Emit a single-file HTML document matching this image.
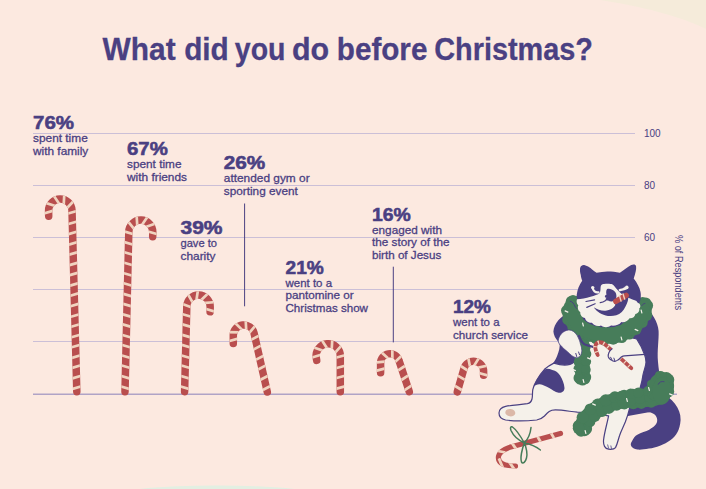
<!DOCTYPE html>
<html><head><meta charset="utf-8"><title>What did you do before Christmas?</title>
<style>html,body{margin:0;padding:0;background:#fce9e0;width:706px;height:489px;overflow:hidden;font-family:"Liberation Sans",sans-serif}</style>
</head><body>
<svg width="706" height="489" viewBox="0 0 706 489" style="display:block;position:absolute;left:0;top:0" font-family="Liberation Sans, sans-serif" fill="#4a4082">
<rect width="706" height="489" fill="#fce9e0"/>
<path d="M600,0 C640,6 680,16 706,29 L706,0 Z" fill="#f5ebda"/>
<ellipse cx="217" cy="496" rx="104" ry="10.5" fill="#e3efe2"/>
<line x1="33" y1="133.5" x2="635" y2="133.5" stroke="#cbbfd7" stroke-width="1"/>
<line x1="33" y1="185.5" x2="635" y2="185.5" stroke="#cbbfd7" stroke-width="1"/>
<line x1="33" y1="237.5" x2="635" y2="237.5" stroke="#cbbfd7" stroke-width="1"/>
<line x1="33" y1="289.5" x2="635" y2="289.5" stroke="#cbbfd7" stroke-width="1"/>
<line x1="33" y1="341.5" x2="635" y2="341.5" stroke="#cbbfd7" stroke-width="1"/>
<line x1="33" y1="394.3" x2="677" y2="394.3" stroke="#b0a3c6" stroke-width="1.5"/>
<text x="644" y="136.9" font-size="10" font-weight="normal" text-anchor="start">100</text>
<text x="644" y="188.9" font-size="10" font-weight="normal" text-anchor="start">80</text>
<text x="644" y="240.9" font-size="10" font-weight="normal" text-anchor="start">60</text>
<text transform="translate(675.3,235) rotate(90)" font-size="10" textLength="75" lengthAdjust="spacingAndGlyphs">% of Respondents</text>
<line x1="244.6" y1="203.5" x2="244.6" y2="306.3" stroke="#4a4082" stroke-width="1"/>
<line x1="393.3" y1="266.7" x2="393.3" y2="342.4" stroke="#4a4082" stroke-width="1"/>
<text x="102.6" y="59.6" font-size="32" font-weight="bold" text-anchor="start" textLength="73" lengthAdjust="spacingAndGlyphs" stroke="#4a4082" stroke-width="0.3">What</text>
<text x="184.2" y="59.6" font-size="32" font-weight="bold" text-anchor="start" textLength="44.6" lengthAdjust="spacingAndGlyphs" stroke="#4a4082" stroke-width="0.3">did</text>
<text x="234.8" y="59.6" font-size="32" font-weight="bold" text-anchor="start" textLength="50.6" lengthAdjust="spacingAndGlyphs" stroke="#4a4082" stroke-width="0.3">you</text>
<text x="292" y="59.6" font-size="32" font-weight="bold" text-anchor="start" textLength="37.2" lengthAdjust="spacingAndGlyphs" stroke="#4a4082" stroke-width="0.3">do</text>
<text x="336.8" y="59.6" font-size="32" font-weight="bold" text-anchor="start" textLength="90.6" lengthAdjust="spacingAndGlyphs" stroke="#4a4082" stroke-width="0.3">before</text>
<text x="434.3" y="59.6" font-size="32" font-weight="bold" text-anchor="start" textLength="158.6" lengthAdjust="spacingAndGlyphs" stroke="#4a4082" stroke-width="0.3">Christmas?</text>
<text x="33" y="129.25" font-size="18.6" font-weight="bold" text-anchor="start" textLength="41" lengthAdjust="spacingAndGlyphs" stroke="#4a4082" stroke-width="0.55">76%</text>
<text x="33" y="142.35" font-size="11.8" font-weight="normal" text-anchor="start" textLength="54.75" lengthAdjust="spacingAndGlyphs" stroke="#4a4082" stroke-width="0.3">spent time</text>
<text x="33" y="155.15" font-size="11.8" font-weight="normal" text-anchor="start" textLength="55.25" lengthAdjust="spacingAndGlyphs" stroke="#4a4082" stroke-width="0.3">with family</text>
<text x="127" y="155.25" font-size="18.6" font-weight="bold" text-anchor="start" textLength="40.75" lengthAdjust="spacingAndGlyphs" stroke="#4a4082" stroke-width="0.55">67%</text>
<text x="127" y="168.35" font-size="11.8" font-weight="normal" text-anchor="start" textLength="54.5" lengthAdjust="spacingAndGlyphs" stroke="#4a4082" stroke-width="0.3">spent time</text>
<text x="127" y="181.15" font-size="11.8" font-weight="normal" text-anchor="start" textLength="60" lengthAdjust="spacingAndGlyphs" stroke="#4a4082" stroke-width="0.3">with friends</text>
<text x="180.5" y="233.7" font-size="18.6" font-weight="bold" text-anchor="start" textLength="42" lengthAdjust="spacingAndGlyphs" stroke="#4a4082" stroke-width="0.55">39%</text>
<text x="180.5" y="246.8" font-size="11.8" font-weight="normal" text-anchor="start" textLength="36.5" lengthAdjust="spacingAndGlyphs" stroke="#4a4082" stroke-width="0.3">gave to</text>
<text x="180.5" y="259.6" font-size="11.8" font-weight="normal" text-anchor="start" textLength="35" lengthAdjust="spacingAndGlyphs" stroke="#4a4082" stroke-width="0.3">charity</text>
<text x="223.8" y="168.6" font-size="18.6" font-weight="bold" text-anchor="start" textLength="41.5" lengthAdjust="spacingAndGlyphs" stroke="#4a4082" stroke-width="0.55">26%</text>
<text x="223.8" y="181.7" font-size="11.8" font-weight="normal" text-anchor="start" textLength="85.8" lengthAdjust="spacingAndGlyphs" stroke="#4a4082" stroke-width="0.3">attended gym or</text>
<text x="223.8" y="194.5" font-size="11.8" font-weight="normal" text-anchor="start" textLength="74" lengthAdjust="spacingAndGlyphs" stroke="#4a4082" stroke-width="0.3">sporting event</text>
<text x="285.5" y="273.5" font-size="18.6" font-weight="bold" text-anchor="start" textLength="38.25" lengthAdjust="spacingAndGlyphs" stroke="#4a4082" stroke-width="0.55">21%</text>
<text x="285.5" y="286.6" font-size="11.8" font-weight="normal" text-anchor="start" textLength="46.5" lengthAdjust="spacingAndGlyphs" stroke="#4a4082" stroke-width="0.3">went to a</text>
<text x="285.5" y="299.4" font-size="11.8" font-weight="normal" text-anchor="start" textLength="68.25" lengthAdjust="spacingAndGlyphs" stroke="#4a4082" stroke-width="0.3">pantomine or</text>
<text x="285.5" y="312.2" font-size="11.8" font-weight="normal" text-anchor="start" textLength="82.5" lengthAdjust="spacingAndGlyphs" stroke="#4a4082" stroke-width="0.3">Christmas show</text>
<text x="372" y="220.5" font-size="18.6" font-weight="bold" text-anchor="start" textLength="38.75" lengthAdjust="spacingAndGlyphs" stroke="#4a4082" stroke-width="0.55">16%</text>
<text x="372" y="233.6" font-size="11.8" font-weight="normal" text-anchor="start" textLength="70" lengthAdjust="spacingAndGlyphs" stroke="#4a4082" stroke-width="0.3">engaged with</text>
<text x="372" y="246.4" font-size="11.8" font-weight="normal" text-anchor="start" textLength="77.5" lengthAdjust="spacingAndGlyphs" stroke="#4a4082" stroke-width="0.3">the story of the</text>
<text x="372" y="259.2" font-size="11.8" font-weight="normal" text-anchor="start" textLength="69.25" lengthAdjust="spacingAndGlyphs" stroke="#4a4082" stroke-width="0.3">birth of Jesus</text>
<text x="453" y="312.6" font-size="18.6" font-weight="bold" text-anchor="start" textLength="38" lengthAdjust="spacingAndGlyphs" stroke="#4a4082" stroke-width="0.55">12%</text>
<text x="453" y="325.7" font-size="11.8" font-weight="normal" text-anchor="start" textLength="46.5" lengthAdjust="spacingAndGlyphs" stroke="#4a4082" stroke-width="0.3">went to a</text>
<text x="453" y="338.5" font-size="11.8" font-weight="normal" text-anchor="start" textLength="75" lengthAdjust="spacingAndGlyphs" stroke="#4a4082" stroke-width="0.3">church service</text>
<mask id="m1" maskUnits="userSpaceOnUse" x="0" y="0" width="706" height="489"><path d="M76.8,391.7 L72.0,210.4 A11.7,11.7 0 0 0 48.6,211.0 L48.7,216.2" fill="none" stroke="#fff" stroke-width="7.5" stroke-linecap="round"/></mask>
<path d="M76.8,391.7 L72.0,210.4 A11.7,11.7 0 0 0 48.6,211.0 L48.7,216.2" fill="none" stroke="#b94e4e" stroke-width="7.5" stroke-linecap="round"/>
<path d="M70.2,389.6L83.2,385.8 M69.9,379.1L82.9,375.3 M69.7,368.6L82.6,364.7 M69.4,358.6L82.3,354.7 M69.1,348.0L82.1,344.2 M68.9,338.0L81.8,334.2 M68.6,327.5L81.5,323.7 M68.3,317.5L81.3,313.7 M68.0,307.0L81.0,303.1 M67.8,296.5L80.7,292.6 M67.5,286.4L80.4,282.6 M67.2,275.9L80.2,272.1 M66.9,265.9L79.9,262.1 M66.7,255.4L79.6,251.6 M66.4,245.4L79.3,241.5 M66.1,234.9L79.1,231.0 M65.9,224.8L78.8,221.0 M65.6,214.3L78.5,210.5 M65.6,209.5L74.9,199.7 M63.6,206.4L64.4,192.9 M60.2,205.2L52.6,194.1 M56.9,206.5L44.0,202.4 M55.1,210.1L42.2,214.0" stroke="#f0d4c0" stroke-width="2.7" fill="none" mask="url(#m1)"/>
<mask id="m2" maskUnits="userSpaceOnUse" x="0" y="0" width="706" height="489"><path d="M125.0,391.7 L128.8,231.8 A12.0,12.0 0 0 1 152.8,232.4 L152.7,236.7" fill="none" stroke="#fff" stroke-width="7.5" stroke-linecap="round"/></mask>
<path d="M125.0,391.7 L128.8,231.8 A12.0,12.0 0 0 1 152.8,232.4 L152.7,236.7" fill="none" stroke="#b94e4e" stroke-width="7.5" stroke-linecap="round"/>
<path d="M131.6,389.6L118.6,385.8 M131.8,379.1L118.9,375.3 M132.1,368.5L119.1,364.7 M132.3,358.5L119.4,354.7 M132.6,348.0L119.6,344.2 M132.8,338.0L119.8,334.2 M133.0,327.4L120.1,323.6 M133.3,317.4L120.3,313.6 M133.5,306.9L120.6,303.1 M133.8,296.9L120.8,293.1 M134.0,286.3L121.1,282.5 M134.3,276.3L121.3,272.5 M134.5,265.8L121.6,262.0 M134.8,255.3L121.8,251.5 M135.0,245.2L122.0,241.4 M135.3,234.7L122.3,230.9 M135.3,230.3L126.7,219.9 M137.4,227.5L136.5,214.0 M141.0,226.3L148.6,215.2 M144.3,227.5L157.0,223.0 M146.3,231.0L159.3,234.8" stroke="#f0d4c0" stroke-width="2.7" fill="none" mask="url(#m2)"/>
<mask id="m3" maskUnits="userSpaceOnUse" x="0" y="0" width="706" height="489"><path d="M184.6,391.7 L186.8,306.4 A11.7,11.7 0 0 1 210.2,307.0 L210.1,311.8" fill="none" stroke="#fff" stroke-width="7.5" stroke-linecap="round"/></mask>
<path d="M184.6,391.7 L186.8,306.4 A11.7,11.7 0 0 1 210.2,307.0 L210.1,311.8" fill="none" stroke="#b94e4e" stroke-width="7.5" stroke-linecap="round"/>
<path d="M191.2,389.6L178.2,385.8 M191.4,379.1L178.5,375.2 M191.7,368.5L178.8,364.7 M192.0,358.5L179.0,354.7 M192.3,348.0L179.3,344.1 M192.5,337.9L179.6,334.1 M192.8,327.4L179.8,323.6 M193.0,317.3L180.1,313.5 M193.2,307.9L180.5,303.2 M193.6,304.2L187.0,292.5 M196.2,301.8L198.2,288.4 M199.7,301.4L209.5,292.1 M202.7,303.2L216.2,302.0 M203.6,308.3L216.6,312.1" stroke="#f0d4c0" stroke-width="2.7" fill="none" mask="url(#m3)"/>
<mask id="m4" maskUnits="userSpaceOnUse" x="0" y="0" width="706" height="489"><path d="M267.3,392.0 L254.0,332.9 A10.5,10.5 0 0 0 233.3,335.3 L233.3,343.6" fill="none" stroke="#fff" stroke-width="7.5" stroke-linecap="round"/></mask>
<path d="M267.3,392.0 L254.0,332.9 A10.5,10.5 0 0 0 233.3,335.3 L233.3,343.6" fill="none" stroke="#b94e4e" stroke-width="7.5" stroke-linecap="round"/>
<path d="M260.4,391.2L272.4,385.0 M258.1,381.0L270.1,374.7 M255.8,370.7L267.8,364.4 M253.6,360.9L265.6,354.7 M251.3,350.7L263.3,344.4 M249.1,340.9L261.1,334.6 M248.0,334.4L256.7,324.0 M246.3,331.7L245.6,318.2 M243.2,330.9L233.6,321.5 M240.4,332.4L226.9,332.1 M239.8,338.1L226.8,341.7" stroke="#f0d4c0" stroke-width="2.7" fill="none" mask="url(#m4)"/>
<mask id="m5" maskUnits="userSpaceOnUse" x="0" y="0" width="706" height="489"><path d="M340.3,391.7 L340.3,355.9 A12.1,12.1 0 1 0 316.3,358.0 L316.7,360.4" fill="none" stroke="#fff" stroke-width="7.5" stroke-linecap="round"/></mask>
<path d="M340.3,391.7 L340.3,355.9 A12.1,12.1 0 1 0 316.3,358.0 L316.7,360.4" fill="none" stroke="#b94e4e" stroke-width="7.5" stroke-linecap="round"/>
<path d="M333.8,389.4L346.8,385.9 M333.8,378.8L346.8,375.3 M333.8,368.7L346.8,365.2 M333.8,358.2L346.8,354.7 M333.8,354.2L342.7,344.1 M331.6,351.1L332.4,337.7 M328.2,350.1L320.9,338.7 M324.6,351.3L311.8,346.8 M322.6,354.3L309.6,358.2" stroke="#f0d4c0" stroke-width="2.7" fill="none" mask="url(#m5)"/>
<mask id="m6" maskUnits="userSpaceOnUse" x="0" y="0" width="706" height="489"><path d="M409.3,391.7 L399.0,360.5 A9.4,9.4 0 0 0 380.6,363.5 L380.6,372.8" fill="none" stroke="#fff" stroke-width="7.5" stroke-linecap="round"/></mask>
<path d="M409.3,391.7 L399.0,360.5 A9.4,9.4 0 0 0 380.6,363.5 L380.6,372.8" fill="none" stroke="#b94e4e" stroke-width="7.5" stroke-linecap="round"/>
<path d="M402.4,391.6L413.7,384.2 M399.1,381.5L410.3,374.1 M395.9,371.9L407.2,364.5 M393.4,363.6L403.1,354.2 M392.4,361.1L392.3,347.6 M389.9,360.1L380.0,350.9 M387.4,361.3L374.0,362.7 M387.1,367.9L374.1,371.4" stroke="#f0d4c0" stroke-width="2.7" fill="none" mask="url(#m6)"/>
<mask id="m7" maskUnits="userSpaceOnUse" x="0" y="0" width="706" height="489"><path d="M457.3,391.9 L464.0,368.5 A10.0,10.0 0 0 1 483.6,371.3 L483.6,375.3" fill="none" stroke="#fff" stroke-width="7.5" stroke-linecap="round"/></mask>
<path d="M457.3,391.9 L464.0,368.5 A10.0,10.0 0 0 1 483.6,371.3 L483.6,375.3" fill="none" stroke="#b94e4e" stroke-width="7.5" stroke-linecap="round"/>
<path d="M464.2,391.5L452.6,384.5 M467.1,381.2L455.6,374.3 M469.8,371.9L458.4,364.5 M470.5,368.9L467.8,355.7 M473.0,367.4L480.2,356.0 M475.9,368.1L489.1,365.3 M477.1,372.5L490.1,376.1" stroke="#f0d4c0" stroke-width="2.7" fill="none" mask="url(#m7)"/>
<path fill="#4a4082" d="M660,392 C672,398 681,408 680.6,420 C680,430 676,436 671,439.7 C664,445 656,447.5 649,448.6 C644,449.5 640,450 637.3,449.6 C631,448.5 629.5,444.5 631.8,441.5 C633.5,438 635,436 637.3,434.7 C641,432.5 646,431.5 649.2,429.7 C654,427 657.5,424 657.2,419.8 C657,414.5 652,412 647.2,411.9 C641,412 635,413.5 629.4,414.9 L626,410 L645,392 Z"/>
<path fill="#4a4082" d="M570,312 C561,316 554,323 553.4,331.5 C553.6,335 555.5,338.5 557.9,341.2 C559,343 559.6,344.5 559.7,345.8 C559.5,350.5 557.5,355 556,358.6 C554.8,361 553.2,363.2 551.4,365 L575,370 L600,400 L628,416 L650,412 L668,400 C662,388 659,375 658,362 C657,350 659,340 658.6,331 C658,322 652,312 644,306 L600,300 Z"/>
<path fill="#f5f1ea" stroke="#4a4082" stroke-width="1.2" stroke-linejoin="round" d="M553.9,363.1 C550,365 547,367 544.5,369.3 C541,373 538.5,377 536.7,380.3 C534.5,384 533.3,387 532.8,389.6 C532.2,393 532.8,396 532,399 C531.3,402 529.5,403.2 527.4,403.6 C520,404.8 513,405 505.6,406.4 C501,407.5 499,410 499,413 C499,416.5 501.5,419.2 505.6,420 C515,421.3 527,421 536.7,420 C540,419.5 542.5,418 544.5,416 C546,414.3 547.5,412.5 549.2,411.4 C551,410.2 553,409.9 555.4,409.9 C563,410 570,411.5 577.3,412.2 L590,413 L608.6,415.9 C607,424 604.5,432 603.6,439.7 C603,445 605,449 608.6,449.2 C612,449.5 614.5,449 615.5,447.6 C617.5,444 618,440 619.5,435.7 C621,431 623.5,426.5 625.4,421.8 C627,417.5 628.5,413 629.4,408.9 L636,398 C640,390 642,382 643,374.8 C644,370 646,366 646,362.3 C646,359 645.5,357 644.5,354.5 C642.5,349 640,344 636.7,339 L620,335 L590,335 L578,345 L574,362 C570,365.5 563,366 553.9,363.1 Z"/>
<path fill="#4a4082" d="M533.6,387 C535.5,380.5 540,374 544.8,369.5 C547,368.3 549.5,369 552.3,370.1 C556,371 558.5,373 560.1,375.6 C562.5,379.5 564.2,384 564.5,388 C564.5,391.5 561.5,393.2 558.6,392.7 C555,392 552,389.5 549.2,388 C546,386.3 543,384.8 539.9,384.2 C537.5,384 535,385 533.6,387 Z"/>
<ellipse cx="510.3" cy="412.7" rx="5" ry="3.7" fill="#dbb8a8" transform="rotate(8 510.3 412.7)"/>
<path fill="none" stroke="#4a4082" stroke-width="0.8" d="M607.6,444.5 L608.6,448.5 M610.8,445.5 L611.5,448.8"/>
<path d="M582.5,427.0 L583.4,424.8 L584.5,422.6 L585.7,420.4 L587.2,418.3 L588.9,416.3 L590.8,414.3 L592.9,412.4 L595.3,410.6 L597.9,408.8 L600.7,407.2 L603.8,405.6 L607.1,404.1 L610.7,402.7 L614.4,401.6 L618.0,400.8 L621.7,400.1 L625.3,399.6 L628.9,399.3 L632.4,399.1 L635.9,398.9 L639.3,398.8 L642.5,398.6 L645.7,398.5 L648.7,398.2 L651.6,397.9 L654.3,397.4 L656.6,396.7 L658.3,395.9 L659.8,395.0 L661.1,394.0 L662.3,393.0 L663.3,391.9 L664.1,390.8 L664.8,389.6 L665.2,388.3 L665.5,387.1 L665.6,385.7 L665.4,384.4 L665.1,382.9 L664.5,381.5 L664.5,381.5" fill="none" stroke="#477d5a" stroke-width="17.0" stroke-linecap="round" stroke-linejoin="round"/>
<g fill="#477d5a"><circle cx="586.2" cy="428.8" r="5.9"/><circle cx="578.6" cy="425.8" r="5.9"/><circle cx="589.9" cy="421.5" r="5.5"/><circle cx="582.7" cy="417.5" r="6.1"/><circle cx="594.7" cy="416.3" r="5.7"/><circle cx="590.3" cy="409.2" r="5.8"/><circle cx="602.0" cy="411.2" r="5.8"/><circle cx="597.6" cy="404.2" r="5.6"/><circle cx="608.9" cy="407.8" r="6.1"/><circle cx="605.8" cy="400.2" r="6.0"/><circle cx="616.7" cy="405.2" r="5.5"/><circle cx="614.9" cy="397.2" r="5.9"/><circle cx="624.3" cy="403.9" r="5.5"/><circle cx="624.1" cy="395.6" r="5.8"/><circle cx="633.3" cy="403.1" r="6.1"/><circle cx="632.9" cy="394.9" r="6.1"/><circle cx="641.4" cy="402.8" r="6.1"/><circle cx="641.2" cy="394.6" r="6.2"/><circle cx="651.2" cy="402.1" r="5.6"/><circle cx="649.0" cy="394.1" r="5.7"/><circle cx="661.1" cy="399.0" r="5.8"/><circle cx="656.5" cy="392.2" r="5.7"/><circle cx="668.4" cy="391.6" r="5.8"/><circle cx="660.8" cy="388.4" r="5.9"/><circle cx="668.2" cy="379.7" r="6.1"/><circle cx="660.6" cy="382.9" r="6.2"/><circle cx="584.6" cy="430.5" r="5.8"/><circle cx="581.1" cy="430.9" r="5.8"/><circle cx="578.6" cy="428.3" r="5.8"/><circle cx="660.5" cy="380.5" r="5.8"/><circle cx="662.9" cy="377.7" r="5.8"/><circle cx="666.4" cy="377.9" r="5.8"/></g>
<path d="M622.0,399.0 L624.7,398.3 L627.4,397.7 L630.1,397.1 L632.8,396.7 L635.4,396.3 L638.1,395.9 L640.8,395.6 L643.4,395.2 L646.0,394.8 L648.6,394.3 L651.1,393.7 L653.7,393.1 L656.2,392.3 L657.0,392.0" fill="none" stroke="#477d5a" stroke-width="13.0" stroke-linecap="round" stroke-linejoin="round"/>
<g fill="#477d5a"><circle cx="622.4" cy="402.2" r="5.4"/><circle cx="621.3" cy="395.9" r="5.2"/><circle cx="630.8" cy="400.3" r="5.5"/><circle cx="630.7" cy="393.8" r="5.3"/><circle cx="640.0" cy="398.9" r="5.1"/><circle cx="638.3" cy="392.7" r="5.2"/><circle cx="649.1" cy="397.4" r="4.9"/><circle cx="648.2" cy="391.1" r="5.1"/><circle cx="657.7" cy="395.2" r="4.9"/><circle cx="656.7" cy="388.7" r="5.4"/></g>
<path d="M655.0,393.0 L654.4,391.8 L654.0,390.6 L653.8,389.4 L653.8,388.1 L653.9,386.9 L654.2,385.6 L654.7,384.4 L655.2,383.2 L655.9,382.1 L656.7,381.1 L657.6,380.2 L658.6,379.4 L659.6,378.7 L660.0,378.5" fill="none" stroke="#477d5a" stroke-width="12" stroke-linecap="round" stroke-linejoin="round"/>
<g fill="#477d5a"><circle cx="658.0" cy="391.1" r="4.2"/><circle cx="651.7" cy="394.3" r="4.4"/><circle cx="657.9" cy="385.8" r="4.3"/><circle cx="651.0" cy="384.1" r="4.0"/><circle cx="662.3" cy="381.3" r="4.2"/><circle cx="658.9" cy="375.1" r="3.8"/><circle cx="658.5" cy="393.5" r="4.0"/><circle cx="656.7" cy="396.0" r="4.0"/><circle cx="653.7" cy="396.2" r="4.0"/><circle cx="660.6" cy="375.1" r="4.0"/><circle cx="663.1" cy="376.9" r="4.0"/><circle cx="663.2" cy="379.9" r="4.0"/></g>
<ellipse cx="661.8" cy="391" rx="9.5" ry="13.5" fill="#477d5a"/>
<path fill="none" stroke="#4a4082" stroke-width="0.9" stroke-linecap="round" d="M658.3,384.2 C659,382.2 661.5,381 664,381.6"/>
<path d="M573.5,304.0 L572.4,305.3 L571.5,306.7 L570.8,308.1 L570.3,309.6 L570.0,311.2 L569.9,312.8 L570.1,314.5 L570.4,316.2 L570.9,317.9 L571.7,319.5 L572.6,321.2 L573.7,322.9 L575.0,324.5 L576.9,326.2 L579.1,327.9 L581.4,329.4 L583.7,330.8 L586.0,332.0 L588.4,333.0 L590.8,333.8 L593.3,334.6 L595.8,335.1 L598.3,335.6 L600.9,335.9 L603.5,336.2 L606.2,336.3 L608.9,336.3 L611.7,336.1 L614.4,335.8 L617.0,335.3 L619.5,334.6 L622.0,333.7 L624.3,332.7 L626.6,331.5 L628.8,330.2 L630.9,328.8 L632.9,327.2 L634.7,325.5 L636.5,323.7 L638.2,321.8 L639.3,320.4 L640.3,319.0 L641.2,317.7 L642.0,316.4 L642.6,315.1 L643.2,313.9 L643.7,312.8 L644.0,311.6 L644.2,310.5 L644.3,309.5 L644.3,308.4 L644.2,307.4 L643.9,306.3 L643.8,306.0" fill="none" stroke="#477d5a" stroke-width="15.0" stroke-linecap="round" stroke-linejoin="round"/>
<g fill="#477d5a"><circle cx="571.0" cy="301.2" r="5.2"/><circle cx="576.0" cy="306.7" r="5.2"/><circle cx="566.4" cy="310.6" r="5.4"/><circle cx="573.8" cy="310.7" r="5.5"/><circle cx="567.6" cy="319.5" r="5.4"/><circle cx="574.4" cy="316.5" r="5.2"/><circle cx="573.2" cy="327.9" r="5.7"/><circle cx="577.7" cy="322.0" r="5.3"/><circle cx="580.4" cy="333.1" r="5.8"/><circle cx="584.1" cy="326.8" r="5.4"/><circle cx="588.7" cy="337.0" r="5.1"/><circle cx="591.0" cy="330.0" r="5.3"/><circle cx="595.7" cy="338.9" r="5.2"/><circle cx="597.2" cy="331.7" r="5.7"/><circle cx="604.1" cy="339.9" r="5.5"/><circle cx="605.1" cy="332.5" r="5.4"/><circle cx="613.2" cy="339.7" r="5.1"/><circle cx="611.4" cy="332.5" r="5.2"/><circle cx="621.8" cy="337.7" r="5.4"/><circle cx="618.9" cy="330.9" r="5.5"/><circle cx="629.4" cy="334.2" r="5.3"/><circle cx="626.0" cy="327.6" r="5.6"/><circle cx="636.1" cy="329.3" r="5.5"/><circle cx="631.4" cy="323.5" r="5.7"/><circle cx="642.4" cy="322.4" r="5.3"/><circle cx="636.7" cy="317.7" r="5.2"/><circle cx="646.7" cy="315.2" r="5.6"/><circle cx="639.6" cy="312.8" r="5.4"/><circle cx="647.5" cy="305.5" r="5.6"/><circle cx="640.2" cy="306.8" r="5.5"/><circle cx="573.0" cy="300.3" r="5.4"/><circle cx="576.1" cy="301.3" r="5.4"/><circle cx="577.2" cy="304.3" r="5.4"/><circle cx="640.3" cy="304.7" r="5.4"/><circle cx="642.6" cy="302.5" r="5.4"/><circle cx="645.8" cy="302.9" r="5.4"/></g>
<path d="M631.0,329.0 L632.4,327.3 L633.7,325.6 L635.0,323.8 L636.1,322.0 L637.1,320.2 L638.0,318.4 L638.8,316.7 L639.5,314.9 L640.0,313.1 L640.4,311.3 L640.6,309.5 L640.7,307.8 L640.6,306.1 L640.5,305.5" fill="none" stroke="#477d5a" stroke-width="13.0" stroke-linecap="round" stroke-linejoin="round"/>
<g fill="#477d5a"><circle cx="633.8" cy="331.5" r="4.0"/><circle cx="627.7" cy="327.0" r="4.3"/><circle cx="637.7" cy="326.6" r="4.1"/><circle cx="632.2" cy="321.2" r="3.8"/><circle cx="641.7" cy="319.6" r="4.1"/><circle cx="634.4" cy="317.3" r="4.0"/><circle cx="644.0" cy="312.4" r="4.0"/><circle cx="636.6" cy="310.9" r="3.8"/><circle cx="644.3" cy="305.5" r="3.8"/><circle cx="636.7" cy="305.9" r="4.3"/></g>
<path d="M583.0,330.0 L581.6,328.6 L580.3,327.1 L579.1,325.5 L578.1,323.9 L577.1,322.1 L576.4,320.3 L575.7,318.4 L575.3,316.5 L575.0,314.5 L574.9,312.5 L575.0,310.4 L575.3,308.3 L575.8,306.2 L576.0,305.5" fill="none" stroke="#477d5a" stroke-width="12.0" stroke-linecap="round" stroke-linejoin="round"/>
<g fill="#477d5a"><circle cx="585.6" cy="327.8" r="4.2"/><circle cx="580.5" cy="332.3" r="4.3"/><circle cx="581.8" cy="323.5" r="3.9"/><circle cx="576.1" cy="327.1" r="3.9"/><circle cx="579.0" cy="317.5" r="3.8"/><circle cx="572.6" cy="319.6" r="3.8"/><circle cx="578.3" cy="312.5" r="4.0"/><circle cx="571.5" cy="311.5" r="4.1"/><circle cx="579.0" cy="307.2" r="3.9"/><circle cx="572.6" cy="305.1" r="4.3"/></g>
<path fill="none" stroke="#477d5a" stroke-width="14" stroke-linecap="round" d="M575,307 C572,314 574,320 579,325 C587,332.5 597,334.5 608,334.5 C620,334.5 630,329 637,321 C641,316 643,311 642,306.5"/>
<path d="M582.0,347.0 L582.3,349.0 L582.5,351.1 L582.6,353.2 L582.7,355.4 L582.7,357.5 L582.7,359.8 L582.6,362.0 L582.5,364.3 L582.5,366.6 L582.4,368.9 L582.4,371.3 L582.4,373.7 L582.5,376.2 L582.5,377.0" fill="none" stroke="#477d5a" stroke-width="14.5" stroke-linecap="round" stroke-linejoin="round"/>
<g fill="#477d5a"><circle cx="578.6" cy="347.5" r="5.3"/><circle cx="585.5" cy="347.1" r="5.2"/><circle cx="579.3" cy="354.6" r="5.3"/><circle cx="586.0" cy="353.9" r="5.3"/><circle cx="579.2" cy="362.1" r="5.5"/><circle cx="586.0" cy="361.4" r="5.1"/><circle cx="579.0" cy="368.8" r="5.5"/><circle cx="585.8" cy="369.8" r="4.9"/><circle cx="579.1" cy="377.9" r="5.6"/><circle cx="585.9" cy="377.1" r="5.3"/><circle cx="579.0" cy="345.3" r="5.2"/><circle cx="581.5" cy="343.6" r="5.2"/><circle cx="584.3" cy="344.5" r="5.2"/><circle cx="585.2" cy="379.0" r="5.2"/><circle cx="582.6" cy="380.4" r="5.2"/><circle cx="579.9" cy="379.2" r="5.2"/></g>
<path fill="none" stroke="#4a4082" stroke-width="2.2" stroke-linecap="round" d="M579,336 C580.5,340 582,343.3 585,344.6 C587.5,345.6 590,345.6 592.5,346.8"/>
<path fill="#f5f1ea" stroke="#4a4082" stroke-width="0.7" d="M558.3,340.7 C558.5,336 563,330.3 568.9,329.9 C572.5,330 575.3,332.3 577.2,335.6 C579,339 580,341.5 580.4,343.9 C581.2,346 581.8,348.3 581.8,350.4 C581.8,354.5 579.5,357.8 576.3,357.7 C573,357.3 570.5,354.5 568,352.2 C565,349.8 562.5,347.5 560.6,345.3 C559,343.8 558.3,342.3 558.3,340.7 Z"/>
<path fill="none" stroke="#4a4082" stroke-width="1.0" stroke-linecap="round" d="M575.8,353.4 L576.7,356.5 M578.6,352 L579.5,354.7"/>
<path d="M597.7,355 C595.6,350.8 594.3,347.5 595.8,344.6 C597.8,341.3 601.8,341.8 604.8,344.2 C612.5,350.6 622.8,360.5 631.3,368.2" fill="none" stroke="#b94e4e" stroke-width="3.8" stroke-linecap="round"/>
<path d="M597.7,355 C595.6,350.8 594.3,347.5 595.8,344.6 C597.8,341.3 601.8,341.8 604.8,344.2 C612.5,350.6 622.8,360.5 631.3,368.2" fill="none" stroke="#f0d4c0" stroke-width="3.8" stroke-dasharray="1.3 4.3" stroke-dashoffset="-2.5"/>
<path fill="#f5f1ea" d="M612,348.5 L626,347 L625,355.8 L620,358 Z"/>
<path fill="#f5f1ea" stroke="#4a4082" stroke-width="1.2" stroke-linejoin="round" stroke-linecap="round" d="M612,348.9 C610,350.5 609,351.8 608.8,353 C608.2,354.3 608.1,355.6 608.3,356.7 C608.8,358.3 609.8,359.3 611.1,359.9 C612.2,360.8 613.5,361.3 614.8,361.3 C616,361.2 617,360.7 618,359.9 C619.4,359 620.5,357.8 621.7,356.7 C622.5,356.2 623.5,355.9 624.4,355.8 L645.1,354.4"/>
<path fill="none" stroke="#4a4082" stroke-width="1.0" stroke-linecap="round" d="M610.6,357.2 L612,359.9 M613.9,358.1 L614.8,360.8"/>
<path fill="#4a4082" d="M582.2,280.7 C581.3,278.5 580.9,276.5 580.8,275 C580.2,273 579.8,271 580,269.3 C580,267.8 580.4,266.6 581.3,265.9 C582.1,265.2 583.1,264.9 584.2,265 C585.6,265.3 586.9,265.9 588.1,266.5 C589.7,267.5 591.2,268.7 592.7,269.9 C594,270.9 595.3,271.8 596.6,272.7 C600,271.9 603.8,271.5 607.4,271.4 C611.7,271.4 616,271.9 619.9,272.7 C621.8,271.4 623.7,270.1 625.5,268.8 C627.4,267.5 629.3,266.2 631.2,265 C632.3,264.5 633.5,264.3 634.6,264.6 C635.5,265 636,265.7 636.1,266.5 C636.3,268.2 636.1,270 635.7,271.6 C635.2,273.9 634.5,276.2 633.7,278.4 C635.4,280.5 636.9,282.8 638,285.2 C639.2,287.4 640.1,289.7 640.5,292 C640.8,293.5 640.9,295 640.8,296.5 C640.7,299.5 640,302 638.7,303.8 L636,308 L610,316 L582,310 L577.6,300 C576.7,298 576.5,296 576.8,294.3 C577.2,292 577.7,289.6 578.5,287.5 C579.5,285 580.8,282.8 582.2,280.7 Z"/>
<path fill="#f5f1ea" d="M577,299.2 C581,299.2 586,298.3 590.5,296.8 C594.5,295.6 598,294.8 599.6,293 C601,291 600.2,288 600.8,286 C601.4,284.4 602.6,284 604,284 C607,283.7 610.6,283.7 612.6,284.4 C614.3,285.6 615.5,287.4 616.7,289 C618.3,290.8 620,292.6 621.8,294.1 L628.2,297.8 C630.5,298.8 634.5,300.2 636.5,301 C637,302.5 638.5,303 639.5,303.7 C640.8,305.3 640.5,307.6 639.2,308.6 C639.9,311 638,313.6 635.4,314 C635,316.8 632.2,318.7 629.6,318.3 C628,321.2 624.4,322.8 621.4,322 C619.2,325 614.6,326.2 611,325.6 C608,327.8 603.5,327.6 601,325.5 C597.5,326.8 593.5,325.5 592,322.8 C588.5,323 585.5,320.8 585,318 C582,317.5 580,315 580.3,312.3 C577.8,310.5 577.3,307.5 578.3,305.3 C576.5,303.5 576.3,301 577,299.2 Z"/>
<path fill="#4a4082" d="M607.1,289 C608.6,288.4 610.3,288.7 611.7,289.5 C613.9,290.3 615.4,291.8 616,293.6 C616.6,295.5 616.6,297.4 615.9,299.2 C614.7,300.5 613.3,301.3 611.7,301.5 C610.4,301.6 609.1,301.1 608,300.5 C607.2,300.7 606.3,300.6 605.7,300.1 C605.4,299.2 605.9,298.4 606.6,297.8 C605.7,297.6 605,297.1 604.8,296.4 C605,295.5 605.8,294.9 606.6,294.6 C606.2,293.7 606,292.7 606.2,291.8 C606.2,290.7 606.5,289.7 607.1,289 Z"/>
<path fill="#4a4082" d="M594.2,307.4 C595.7,308.4 597.2,309.2 598.8,309.7 C600.9,310.4 603,310.8 605.2,310.7 C607.5,310.5 609.7,309.9 611.7,308.8 C613.3,307.8 614.6,306.4 615.4,304.7 L614,302.8 L627,296.5 L628.2,297 C628.3,298.4 628.2,299.8 627.8,301 C627.3,303 626.5,304.8 625.5,306.5 C624.5,308.5 623.3,310.4 621.8,312 C620.2,313.5 618.3,314.6 616.3,315.3 C613.6,316.1 610.8,316.3 608,315.9 C604.9,315.5 602.1,314.5 599.7,313 C597.5,311.5 595.7,309.8 594.2,307.9 Z"/>
<path fill="none" stroke="#4a4082" stroke-width="1.15" stroke-linecap="round" d="M605.7,300.4 C604.2,301.4 602.4,302.3 600.2,302.6 M585.9,301.5 L594.6,299.9 M586.8,307.4 L595.1,303.7"/>
<path fill="none" stroke="#f5f1ea" stroke-width="2.3" stroke-linecap="round" d="M592.8,288 C593,290.8 595.3,292.8 598.4,292.3 M619.8,290.2 C621.8,289.5 624.4,289.4 626.6,288"/>
<circle cx="592.7" cy="287.6" r="1.7" fill="#f5f1ea"/><circle cx="626.8" cy="287.4" r="1.8" fill="#f5f1ea"/>
<path fill="none" stroke="#f5f1ea" stroke-width="1.0" stroke-linecap="round" d="M623.4,289.2 L624.4,287.2"/>
<path d="M615.8,301.3 L626.2,295.4" stroke="#b94e4e" stroke-width="5.4" stroke-linecap="round" fill="none"/>
<path d="M619.4,295.4 L621.2,301.6 M622.9,293.4 L624.8,299.6" stroke="#f0d4c0" stroke-width="1.4" fill="none"/>
<path fill="none" stroke="#4a4082" stroke-width="1.0" stroke-linecap="round" d="M570.3,301.2 C572.6,301.6 574,304 574.8,306 C575.3,307.2 576,308 576.6,308.5 M641.9,305.4 C642.7,304.3 643.8,303.6 644.9,303.4"/>
<path d="M565.1,310.9 L567.9,312.1 M582.6,323.0 L583.4,326.0 M621.1,337.0 L621.9,340.0 M635.1,329.4 L637.9,330.6 M641.1,310.0 L641.9,313.0 M572.6,369.4 L575.4,370.6 M587.6,357.9 L590.4,359.1 M583.1,379.5 L583.9,382.5 M592.6,403.9 L595.4,405.1 M626.6,398.5 L627.4,401.5 M648.6,387.5 L649.4,390.5 M669.6,393.9 L672.4,395.1 M585.1,430.5 L585.9,433.5" stroke="#f5f1ea" stroke-width="1.15" stroke-linecap="round" fill="none"/>
<path d="M560.5,433.5 L512.5,446.4 C504,448.7 498.4,452.3 498.4,457.8 C498.4,463.2 503.5,466 515.5,466" fill="none" stroke="#b94e4e" stroke-width="5.2" stroke-linecap="round"/>
<mask id="mfl" maskUnits="userSpaceOnUse" x="0" y="0" width="706" height="489"><path d="M560.5,433.5 L512.5,446.4 C504,448.7 498.4,452.3 498.4,457.8 C498.4,463.2 503.5,466 515.5,466" fill="none" stroke="#fff" stroke-width="5.2" stroke-linecap="round"/></mask>
<path d="M550.0,431.3 L555.0,439.9 M536.5,434.9 L541.5,443.5 M511.1,441.9 L516.9,450.1 M495.6,450.5 L505.4,452.5 M498.9,458.4 L502.7,467.6 M509.1,461.9 L514.9,470.1" stroke="#f0d4c0" stroke-width="2.8" fill="none" mask="url(#mfl)"/>
<path fill="none" stroke="#477d5a" stroke-width="1.5" stroke-linecap="round" stroke-linejoin="round" d="M524.4,443 C521,437 516,429.5 512.5,427 C510.5,426 510,428 511,430.5 C513.5,436 519,440.5 524.4,443 C522,449 520,458 521.5,462 C523,464.5 525.5,462 526.5,458 C527.8,453 526,447 524.4,443 M531,427.5 C530.5,433 528,439 524.4,443 C530,444 536,446.5 540.4,450"/>
</svg>
</body></html>
